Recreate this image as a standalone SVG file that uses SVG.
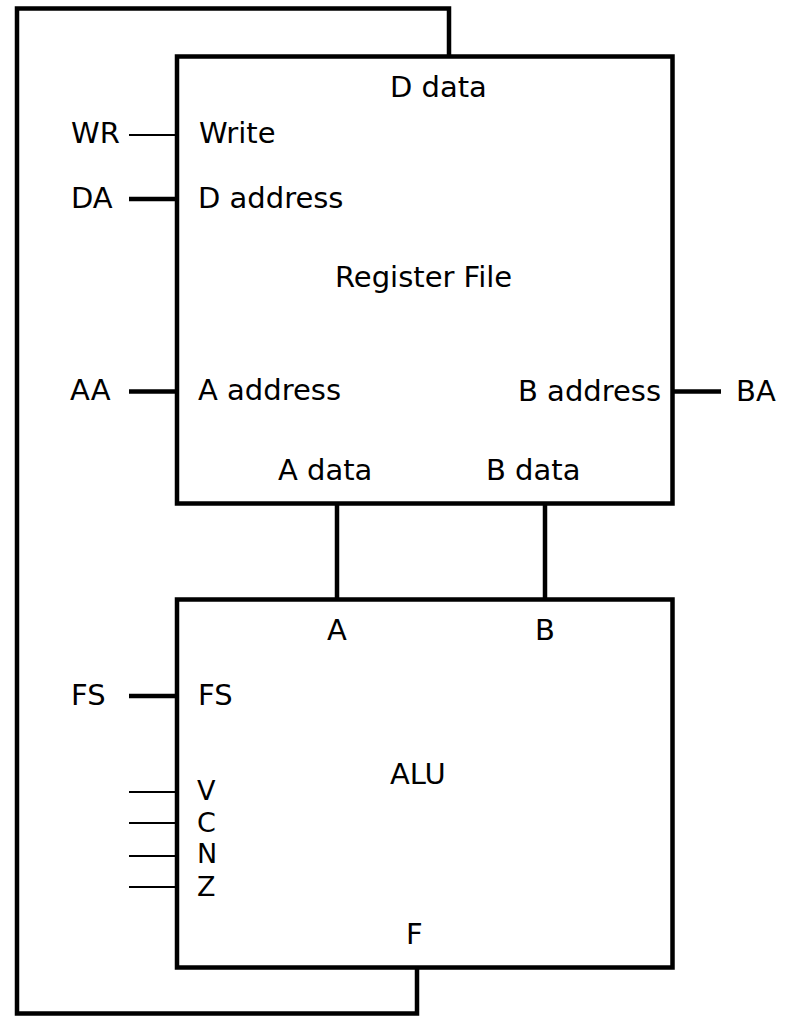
<svg xmlns="http://www.w3.org/2000/svg" width="790" height="1016" viewBox="0 0 790 1016">
<style>
  text { font-family: "DejaVu Sans", "Liberation Sans", sans-serif; font-size: 29px; fill: #000; }
  .box { fill: #fff; stroke: #000; stroke-width: 4.5; }
  .bus { fill: none; stroke: #000; stroke-width: 4.5; }
  .thin { fill: none; stroke: #000; stroke-width: 2; }
  .flag { font-size: 27px; }
</style>
<rect width="790" height="1016" fill="#fff"/>
<g id="connectors">
  <polyline class="bus" points="417,967 417,1013.5 17,1013.5 17,8.5 449,8.5 449,56.5"/>
  <line class="bus" x1="337" y1="503.5" x2="337" y2="599.5"/>
  <line class="bus" x1="545" y1="503.5" x2="545" y2="599.5"/>
  <line class="thin" x1="129" y1="135" x2="177" y2="135"/>
  <line class="bus" x1="129" y1="199" x2="177" y2="199"/>
  <line class="bus" x1="129" y1="391.5" x2="177" y2="391.5"/>
  <line class="bus" x1="672.5" y1="391.5" x2="721" y2="391.5"/>
  <line class="bus" x1="129" y1="696" x2="177" y2="696"/>
  <line class="thin" x1="129" y1="792" x2="177" y2="792"/>
  <line class="thin" x1="129" y1="823" x2="177" y2="823"/>
  <line class="thin" x1="129" y1="856" x2="177" y2="856"/>
  <line class="thin" x1="129" y1="887" x2="177" y2="887"/>
</g>
<g id="register-file">
  <rect class="box" x="177" y="56.5" width="495.5" height="447"/>
  <text x="390" y="97">D data</text>
  <text x="199" y="143">Write</text>
  <text x="198" y="208">D address</text>
  <text x="335" y="287">Register File</text>
  <text x="198" y="400">A address</text>
  <text x="518" y="401">B address</text>
  <text x="278" y="480">A data</text>
  <text x="486" y="480">B data</text>
</g>
<g id="alu">
  <rect class="box" x="177" y="599.5" width="495.5" height="368"/>
  <text x="327" y="640">A</text>
  <text x="535" y="640">B</text>
  <text x="198" y="705">FS</text>
  <text x="390" y="784">ALU</text>
  <text class="flag" x="197" y="800">V</text>
  <text class="flag" x="197" y="832">C</text>
  <text class="flag" x="197" y="863">N</text>
  <text class="flag" x="197" y="896">Z</text>
  <text x="406" y="944">F</text>
</g>
<g id="inputs">
  <text x="71" y="143">WR</text>
  <text x="71" y="208">DA</text>
  <text x="70" y="400">AA</text>
  <text x="736" y="401">BA</text>
  <text x="71" y="705">FS</text>
</g>
</svg>
